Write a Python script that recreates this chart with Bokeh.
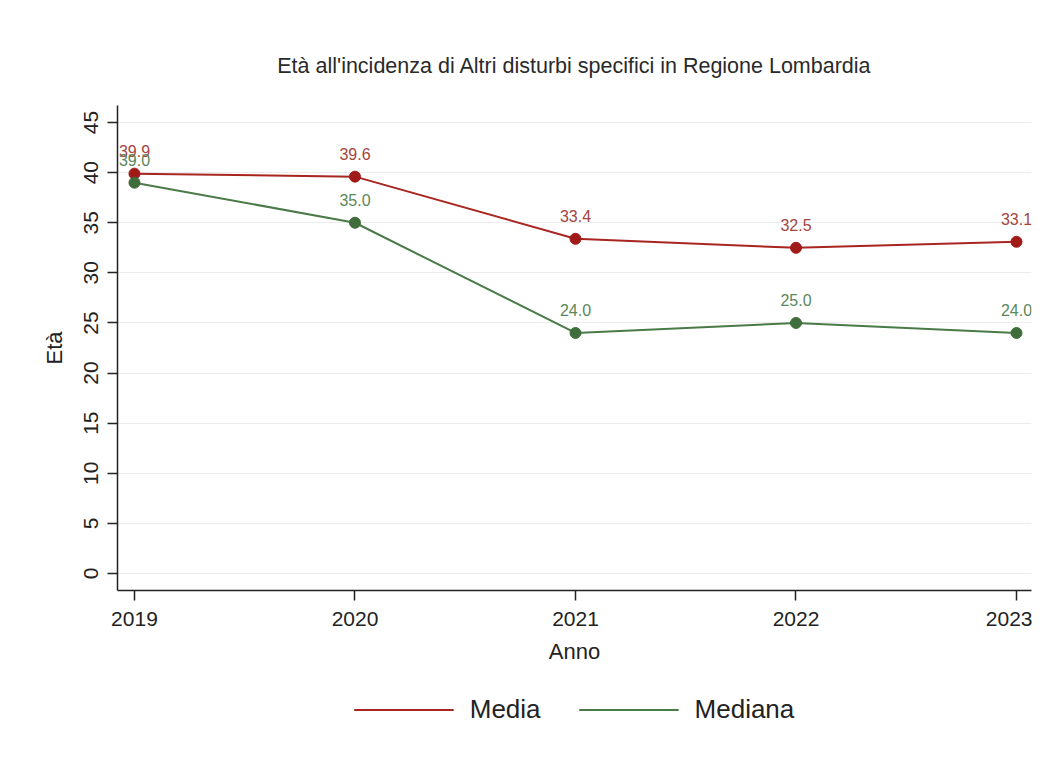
from bokeh.plotting import figure
from bokeh.layouts import column
from bokeh.models import FixedTicker, Range1d, Legend, LegendItem, ColumnDataSource
from bokeh.core.properties import value
from bokeh.embed import file_html
from bokeh.resources import INLINE

years = [2019, 2020, 2021, 2022, 2023]
media = [39.9, 39.6, 33.4, 32.5, 33.1]
mediana = [39.0, 35.0, 24.0, 25.0, 24.0]
y_ticks = [0, 5, 10, 15, 20, 25, 30, 35, 40, 45]

title_text = "Età all'incidenza di Altri disturbi specifici in Regione Lombardia"
x_label = "Anno"
y_label = "Età"
series_names = ["Media", "Mediana"]

RED = "#a82520"
RED_LBL = "#a3453f"
GREEN = "#4a7a47"
GREEN_LBL = "#5a875a"
FONT = "Liberation Sans"

p = figure(frame_width=914, frame_height=485, output_backend="svg", toolbar_location=None,
           x_range=Range1d(2018.923, 2023.068), y_range=Range1d(-1.7, 46.7),
           min_border_left=117, min_border_right=1, min_border_top=105, min_border_bottom=85)

p.title.text = title_text
p.title.align = "center"
p.title.text_font = FONT
p.title.text_font_size = "21.5px"
p.title.text_font_style = "normal"
p.title.text_color = "#2a2a2a"
p.title.standoff = 56
p.title.offset = -5

p.outline_line_color = None
p.background_fill_color = "white"
p.border_fill_color = "white"

p.xgrid.grid_line_color = None
p.ygrid.grid_line_color = "#ececec"
p.ygrid.grid_line_width = 1.2

p.xaxis.ticker = FixedTicker(ticks=years)
p.yaxis.ticker = FixedTicker(ticks=y_ticks)
p.xaxis.minor_tick_line_color = None
p.yaxis.minor_tick_line_color = None

for ax in (p.xaxis[0], p.yaxis[0]):
    ax.axis_line_color = "#222222"
    ax.axis_line_width = 1.5
    ax.major_tick_line_color = "#222222"
    ax.major_tick_line_width = 1.5
    ax.major_tick_out = 10
    ax.major_tick_in = 0
    ax.major_label_text_font = FONT
    ax.major_label_text_font_size = "21px"
    ax.major_label_text_color = "#222222"
    ax.axis_label_text_font = FONT
    ax.axis_label_text_font_size = "22px"
    ax.axis_label_text_font_style = "normal"
    ax.axis_label_text_color = "#222222"

p.xaxis.axis_label = x_label
p.yaxis.axis_label = y_label
p.xaxis.major_label_standoff = 11
p.xaxis.axis_label_standoff = 10
p.yaxis.major_label_orientation = "vertical"
p.yaxis.major_label_standoff = 9
p.yaxis.axis_label_standoff = 15

src = ColumnDataSource(dict(x=years, media=media, mediana=mediana,
                            media_lbl=[f"{v:.1f}" for v in media],
                            mediana_lbl=[f"{v:.1f}" for v in mediana]))

l_media = p.line("x", "media", source=src, line_color=RED, line_width=2)
l_mediana = p.line("x", "mediana", source=src, line_color=GREEN, line_width=2)
p.scatter("x", "media", source=src, size=11, fill_color="#a01a18", line_color="#a01a18")
p.scatter("x", "mediana", source=src, size=11, fill_color="#3f6e3c", line_color="#3f6e3c")

p.text("x", "media", text="media_lbl", source=src, text_align="center", text_baseline="middle",
       y_offset=-23, text_font=value(FONT), text_font_size="16px", text_color=RED_LBL)
p.text("x", "mediana", text="mediana_lbl", source=src, text_align="center", text_baseline="middle",
       y_offset=-23, text_font=value(FONT), text_font_size="16px", text_color=GREEN_LBL)

# legend strip below the chart (series lines fall outside this strip's ranges; only their legend keys show)
p2 = figure(width=1032, height=68, output_backend="svg", toolbar_location=None,
            x_range=Range1d(0, 1), y_range=Range1d(0, 1),
            min_border_left=117, min_border_right=1, min_border_top=0, min_border_bottom=0)
p2.axis.visible = False
p2.grid.grid_line_color = None
p2.outline_line_color = None
p2.border_fill_color = "white"
k_media = p2.line("x", "media", source=src, line_color=RED, line_width=2)
k_mediana = p2.line("x", "mediana", source=src, line_color=GREEN, line_width=2)

legend = Legend(items=[LegendItem(label=series_names[0], renderers=[k_media]),
                       LegendItem(label=series_names[1], renderers=[k_mediana])],
                orientation="horizontal", location="center")
legend.label_text_font = FONT
legend.label_text_font_size = "26px"
legend.label_text_color = "#222222"
legend.glyph_width = 100
legend.label_standoff = 16
legend.spacing = 38
legend.border_line_color = None
legend.background_fill_alpha = 0
legend.margin = 0
legend.padding = 0
p2.add_layout(legend, "center")

open("out.html", "w").write(file_html(column(p, p2, spacing=0), INLINE))
